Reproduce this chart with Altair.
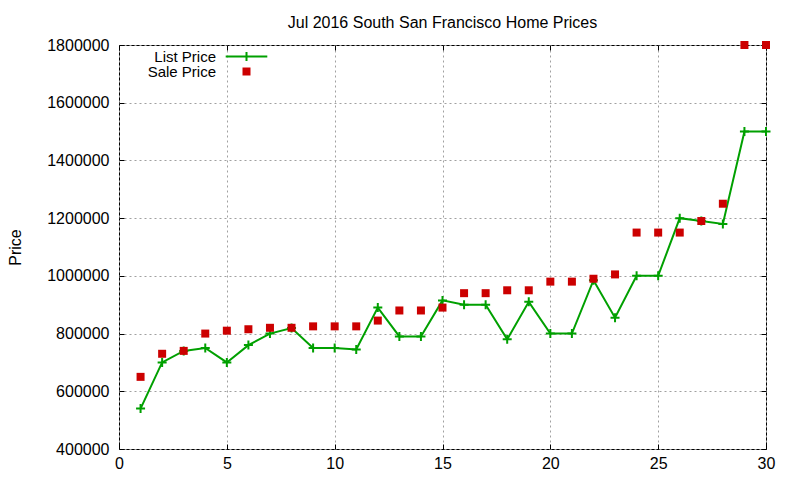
import altair as alt
import pandas as pd

# data
days = list(range(1, 31))
list_price = [540000, 700000, 740000, 750000, 700000, 760000, 800000, 819000, 750000, 750000,
              745000, 890000, 790000, 790000, 915000, 900000, 900000, 780000, 910000, 800000,
              800000, 985000, 855000, 1000000, 1000000, 1200000, 1190000, 1180000, 1500000, 1500000]
sale_price = [650000, 730000, 740000, 800000, 810000, 815000, 820000, 820000, 825000, 825000,
              825000, 845000, 880000, 880000, 890000, 940000, 940000, 950000, 950000, 980000,
              980000, 990000, 1005000, 1150000, 1150000, 1150000, 1190000, 1250000, 1800000, 1800000]
series_names = ["List Price", "Sale Price"]
x_ticks = [0, 5, 10, 15, 20, 25, 30]
y_ticks = [400000, 600000, 800000, 1000000, 1200000, 1400000, 1600000, 1800000]

df = pd.DataFrame({
    "day": days + days,
    "price": list_price + sale_price,
    "series": [series_names[0]] * len(days) + [series_names[1]] * len(days),
})

FONT = "Liberation Sans"
GREEN = "#00a000"
RED = "#cc0000"

xs = alt.Scale(domain=[0, 30], nice=False)
ys = alt.Scale(domain=[400000, 1800000], nice=False, zero=False)

# axes that carry labels and grid
grid_style = dict(grid=True, gridColor="#a0a0a0", gridDash=[2, 3], gridWidth=1,
                  ticks=False, domain=False, labelFont=FONT, labelFontSize=16,
                  labelColor="black")
x_lab = alt.Axis(values=x_ticks, orient="bottom", labelPadding=6, labelFlush=False,
                 title=None, **grid_style)
y_lab = alt.Axis(values=y_ticks, orient="left", format="d", labelPadding=10,
                 title="Price", titleFont=FONT, titleFontSize=16, titleFontWeight="normal",
                 titleColor="black", titlePadding=23, **grid_style)

# tick-only axes pulled inside the frame, gnuplot style (mirrored)
def tick_axis(vals, orient):
    return alt.Axis(values=vals, orient=orient, offset=-5, tickSize=5, tickColor="black",
                    tickWidth=1, labels=False, domain=False, grid=False, title=None)

# gnuplot key: text on the left, sample on the right
def key(symbol, y):
    return alt.Legend(orient="none", legendX=120, legendY=y, title=None,
                      labelFont=FONT, labelFontSize=15, labelColor="black",
                      labelAlign="right", labelOffset={"expr": "-38"},
                      symbolType=symbol, symbolSize=64, symbolStrokeWidth=2)

line = alt.Chart(df).transform_filter(alt.datum.series == "List Price").mark_line(
    strokeWidth=2
).encode(
    x=alt.X("day:Q", scale=xs, axis=x_lab),
    y=alt.Y("price:Q", scale=ys, axis=y_lab),
    color=alt.Color("series:N", scale=alt.Scale(domain=series_names[:1], range=[GREEN]),
                    legend=key("M-5.2,0L5.2,0M0,-1.1L0,1.1", 4)),
)

plus = alt.Chart(df).transform_filter(alt.datum.series == "List Price").mark_point(
    shape="M-1,0L1,0M0,-1L0,1", filled=False, color=GREEN, strokeWidth=2, size=81, opacity=1
).encode(
    x=alt.X("day:Q", scale=xs, axis=tick_axis(x_ticks, "bottom")),
    y=alt.Y("price:Q", scale=ys, axis=tick_axis(y_ticks, "left")),
)

sale = alt.Chart(df).transform_filter(alt.datum.series == "Sale Price").mark_square(
    size=64, opacity=1
).encode(
    x=alt.X("day:Q", scale=xs, axis=tick_axis(x_ticks, "top")),
    y=alt.Y("price:Q", scale=ys, axis=tick_axis(y_ticks, "right")),
    color=alt.Color("series:N", scale=alt.Scale(domain=series_names[1:], range=[RED]),
                    legend=key("square", 19)),
)

chart = alt.layer(line, plus, sale).resolve_axis(
    x="independent", y="independent"
).resolve_scale(color="independent").properties(
    width=647,
    height=404,
    title=alt.Title("Jul 2016 South San Francisco Home Prices", font=FONT, fontSize=16,
                    fontWeight="normal", color="black", offset=6),
    autosize=alt.AutoSizeParams(type="none"),
    padding={"left": 111, "top": 37, "right": 26, "bottom": 23},
).configure_view(stroke="black", strokeWidth=1)

chart.save("out.html", embed_options={"renderer": "svg", "actions": False})
